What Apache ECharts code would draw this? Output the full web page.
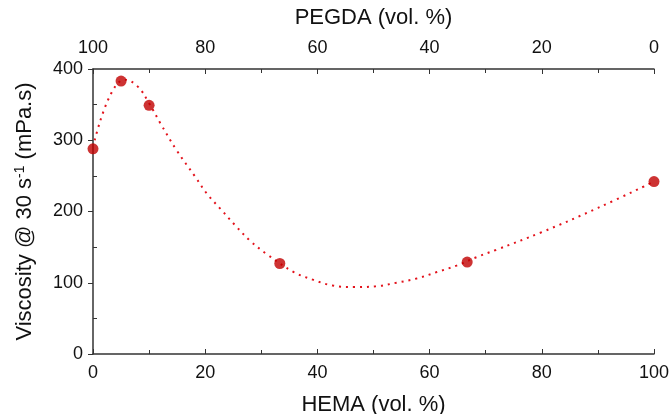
<!DOCTYPE html>
<html>
<head>
<meta charset="utf-8">
<script src="https://cdn.jsdelivr.net/npm/echarts@6/dist/echarts.min.js"></script>
<style>
    html, body { margin: 0; padding: 0; background: #fff; }
    #chart { width: 671px; height: 414px; }
</style>
</head>
<body>
<div id="chart"></div>
<script>
// measured points
const hema = [0, 5, 10, 33.3, 66.7, 100];
const viscosity = [288, 383, 349, 127, 129, 242];
// dotted fit curve
const fitX = [0.3, 3, 5.7, 7.9, 10, 12, 14.9, 18.2, 20.3, 22.8, 25.3, 28, 31, 35.8, 39.3, 42.8, 46.7, 50.4, 54.1, 57.7, 61.3, 64.8, 68.4, 71.8, 80, 90, 100];
const fitY = [300, 362, 385, 376, 352, 324, 286, 249, 225, 203, 181, 159, 140, 115, 104, 96, 94, 95, 100, 106, 115, 124, 136, 146, 171, 205, 242];

const font = 'Liberation Sans, Arial, sans-serif';
const axisColor = '#333';
const textColor = '#111';
// fixed plot box, no auto shrinking to fit labels
const gridBox = { left: 93, right: 17, top: 69, bottom: 60, containLabel: false, outerBoundsMode: 'none' };

const chart = echarts.init(document.getElementById('chart'));

const xBase = {
    type: 'value',
    gridIndex: 0,
    min: 0,
    max: 100,
    interval: 20,
    nameLocation: 'middle',
    axisLine: { show: true, onZero: false, lineStyle: { color: axisColor, width: 1.5 } },
    axisTick: { inside: true, length: 5, lineStyle: { color: axisColor } },
    minorTick: { show: true, splitNumber: 2, length: 4, lineStyle: { color: axisColor } },
    axisLabel: { fontFamily: font, fontSize: 18, color: textColor, margin: 10 },
    nameTextStyle: { fontFamily: font, fontSize: 22, color: textColor },
    splitLine: { show: false }
};

chart.setOption({
    backgroundColor: '#fff',
    animation: false,
    // second grid only carries the outward major ticks and labels of the y axis
    grid: [gridBox, gridBox],
    xAxis: [
        Object.assign({}, xBase, {
            position: 'bottom',
            name: 'HEMA (vol. %)',
            nameGap: 40
        }),
        Object.assign({}, xBase, {
            position: 'top',
            inverse: true,
            name: 'PEGDA (vol. %)',
            nameGap: 40,
            axisLabel: Object.assign({}, xBase.axisLabel, { margin: 12 })
        }),
        { type: 'value', gridIndex: 1, min: 0, max: 100, show: false }
    ],
    yAxis: [
        {
            // axis line + inward minor ticks
            type: 'value',
            gridIndex: 0,
            min: 0,
            max: 400,
            interval: 100,
            position: 'left',
            name: 'Viscosity @ 30 s{sup|-1} (mPa.s)',
            nameLocation: 'middle',
            nameGap: 56,
            nameTextStyle: {
                fontFamily: font,
                fontSize: 22,
                color: textColor,
                rich: { sup: { fontFamily: font, fontSize: 14, color: textColor, verticalAlign: 'top', padding: [0, 0, 10, 0] } }
            },
            axisLine: { show: true, lineStyle: { color: axisColor, width: 1.5 } },
            axisTick: { show: false, inside: true },
            minorTick: { show: true, splitNumber: 2, length: 4, lineStyle: { color: axisColor } },
            axisLabel: { show: false },
            splitLine: { show: false }
        },
        {
            // outward major ticks and labels
            type: 'value',
            gridIndex: 1,
            min: 0,
            max: 400,
            interval: 100,
            position: 'left',
            axisLine: { show: false },
            axisTick: { inside: false, length: 5, lineStyle: { color: axisColor } },
            axisLabel: { fontFamily: font, fontSize: 18, color: textColor, margin: 10 },
            splitLine: { show: false }
        }
    ],
    series: [
        {
            name: 'fit',
            type: 'line',
            xAxisIndex: 0,
            yAxisIndex: 0,
            data: fitX.map((x, i) => [x, fitY[i]]),
            smooth: 0.4,
            showSymbol: false,
            lineStyle: { color: '#e3121b', width: 2, type: [2, 5] },
            z: 2
        },
        {
            name: 'viscosity',
            type: 'scatter',
            xAxisIndex: 0,
            yAxisIndex: 0,
            data: hema.map((x, i) => [x, viscosity[i]]),
            symbolSize: 11,
            itemStyle: { color: '#c00000' },
            z: 3
        }
    ]
});
</script>
</body>
</html>
